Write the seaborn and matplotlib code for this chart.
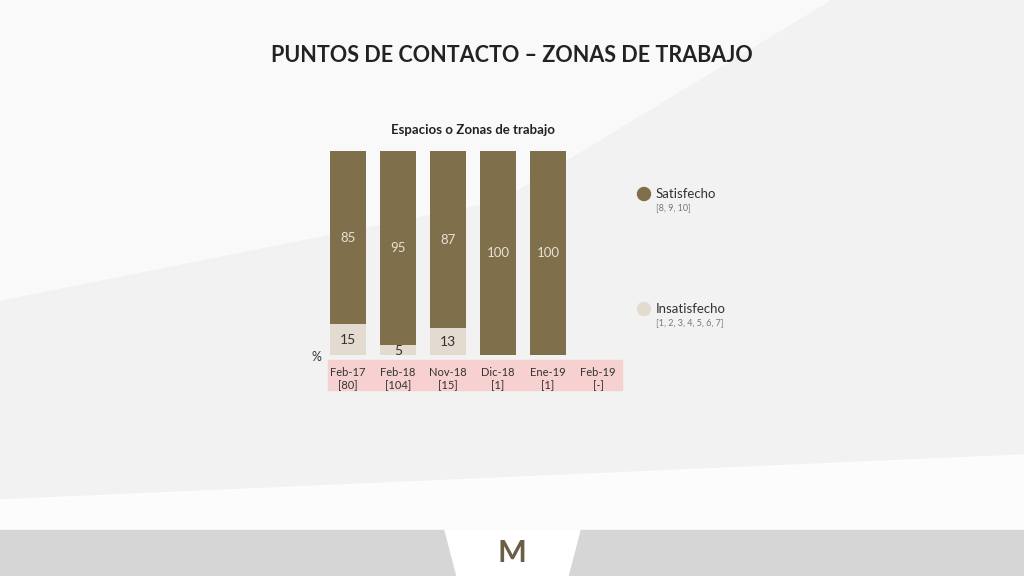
import matplotlib
matplotlib.use("Agg")
import matplotlib.pyplot as plt
import seaborn as sns
import pandas as pd
import numpy as np
from matplotlib.patches import Rectangle, Polygon

categories = ["Feb-17", "Feb-18", "Nov-18", "Dic-18", "Ene-19", "Feb-19"]
bases = ["[80]", "[104]", "[15]", "[1]", "[1]", "[-]"]
satisfecho = [85, 95, 87, 100, 100, np.nan]
insatisfecho = [15, 5, 13, 0, 0, np.nan]

brown = "#7f6f4b"
beige = "#e3dbd0"
font = "Lato"
plt.rcParams["font.family"] = font

fig = plt.figure(figsize=(10.24, 5.76), dpi=100)
fig.patch.set_facecolor("#f2f2f2")
bg = fig.add_axes([0, 0, 1, 1], zorder=-10)
bg.set_xlim(0, 1024); bg.set_ylim(576, 0); bg.axis("off")
bg.add_patch(Polygon([[0, 0], [830, 0], [500, 200], [0, 300]], color="white", alpha=0.55))
bg.add_patch(Polygon([[0, 500], [1024, 455], [1024, 530], [0, 530]], color="white", alpha=0.8))
bg.add_patch(Rectangle((0, 530), 1024, 46, color="#d6d6d6"))
bg.add_patch(Polygon([[445, 530], [580, 530], [568, 576], [457, 576]], color="white"))
bg.text(512, 553, "M", ha="center", va="center", fontsize=22, color="#6b5e45", fontweight="bold")
bg.add_patch(Rectangle((328, 360), 294, 30, color="#f7d0d0"))

fig.text(0.5, 1 - 55 / 576, "PUNTOS DE CONTACTO – ZONAS DE TRABAJO", ha="center", va="center",
         fontsize=15.5, fontweight="bold", color="#222222")
fig.text(473 / 1024, 1 - 130 / 576, "Espacios o Zonas de trabajo", ha="center", va="center",
         fontsize=9.5, fontweight="bold", color="#222222")

ax = fig.add_axes([323 / 1024, 1 - 355 / 576, 300 / 1024, 204 / 576])
ax.patch.set_alpha(0)
total = [s + i for s, i in zip(satisfecho, insatisfecho)]
df = pd.DataFrame({"cat": categories, "total": total, "ins": insatisfecho, "sat": satisfecho})
sns.barplot(data=df, x="cat", y="total", color=brown, width=0.72, saturation=1, ax=ax, order=categories)
sns.barplot(data=df, x="cat", y="ins", color=beige, width=0.72, saturation=1, ax=ax, order=categories)
for i, (s, ins) in enumerate(zip(satisfecho, insatisfecho)):
    if np.isnan(s):
        continue
    ax.text(i, ins + s / 2, f"{s:.0f}", ha="center", va="center", color="#e8e2d6", fontsize=9.5)
    if ins > 0:
        ax.text(i, ins / 2 if ins >= 10 else ins / 2 - 0.5, f"{ins:.0f}", ha="center", va="center",
                color="#333333", fontsize=10)
ax.set_xlim(-0.5, 5.5)
ax.set_ylim(0, 100)
ax.set_xticks(range(6))
ax.set_xticklabels([f"{c}\n{b}" for c, b in zip(categories, bases)], fontsize=8, color="#333333")
ax.tick_params(length=0, pad=9)
ax.set_yticks([])
ax.set_xlabel(""); ax.set_ylabel("")
for sp in ax.spines.values():
    sp.set_visible(False)
fig.text(316 / 1024, 1 - 357 / 576, "%", ha="center", va="center", fontsize=9, color="#333333")

bg.add_patch(plt.Circle((644, 194), 6.5, color=brown))
bg.text(656, 194, "Satisfecho", va="center", fontsize=9.5, color="#333333")
bg.text(656, 208, "[8, 9, 10]", va="center", fontsize=6.5, color="#777777")
bg.add_patch(plt.Circle((644, 309), 6.5, color=beige))
bg.text(656, 309, "Insatisfecho", va="center", fontsize=9.5, color="#333333")
bg.text(656, 323, "[1, 2, 3, 4, 5, 6, 7]", va="center", fontsize=6.5, color="#777777")

fig.savefig("out.png", dpi=100, facecolor=fig.get_facecolor())
